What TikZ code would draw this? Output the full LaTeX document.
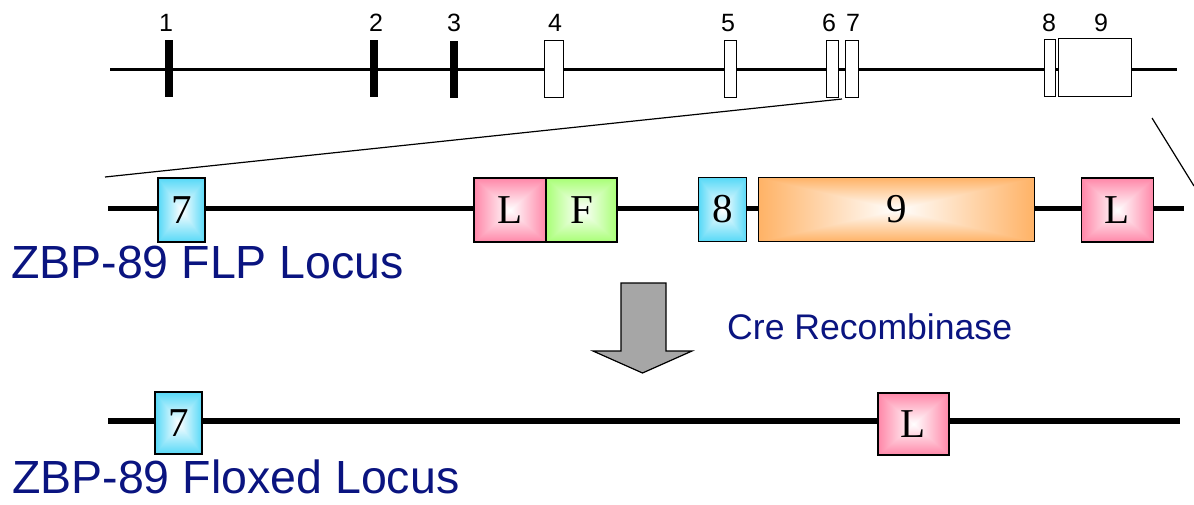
\documentclass[tikz,border=0pt]{standalone}
\usepackage{fontspec}
\setmainfont{Liberation Serif}
\newfontfamily\arialfont{Liberation Sans}

% Box fills: white centre fading to the colour at every edge.
% The stack holds x y; it leaves r g b. The box covers the middle 50bp square.
\newcommand\edgeshade[4]{%
  \pgfdeclarefunctionalshading{#1}{\pgfpoint{-50bp}{-50bp}}{\pgfpoint{50bp}{50bp}}{}{%
    abs exch abs 2 copy lt {exch} if pop 25 div
    dup 1 gt {pop 1} if
    dup #2 mul 1 exch sub exch
    dup #3 mul 1 exch sub exch
    #4 mul 1 exch sub}}
\edgeshade{exoncyan}{0.66}{0.15}{0.03}
\edgeshade{loxpink}{0.0}{0.47}{0.34}
\edgeshade{frtgreen}{0.34}{0.0}{0.54}
\edgeshade{exonorange}{0.0}{0.30}{0.60}

\definecolor{labelblue}{RGB}{10,20,128}
\definecolor{arrowgray}{RGB}{166,166,166}

\tikzset{
  darkexon/.style={fill=black, draw=none, minimum width=8pt, minimum height=57pt, inner sep=0pt},
  lightexon/.style={fill=white, draw=black, line width=0.9pt, minimum height=57pt, inner sep=0pt},
  exonnum/.style={font=\arialfont\fontsize{25}{25}\selectfont, inner sep=0pt},
  feature/.style={draw=black, line width=1.3pt, inner sep=0pt, minimum height=64pt,
                  font=\fontsize{41}{41}\selectfont},
  locustitle/.style={font=\arialfont\fontsize{46.5}{46.5}\selectfont, text=labelblue,
                     inner sep=0pt, anchor=base west},
  zoomline/.style={line width=1.2pt},
}

\begin{document}
\begin{tikzpicture}[x=1pt,y=-1pt]
\useasboundingbox (0,0) rectangle (1194,504);

% ---- gene overview with nine exons ----
\coordinate (g0) at (110,69);
\coordinate (g1) at (1177,69);
\draw[line width=3pt] (g0) -- (g1);

\node[darkexon] (e1) at (168.5,68.5) {};
\node[darkexon] (e2) at (373.5,68) {};
\node[darkexon] (e3) at (453.5,69.5) {};
\node[lightexon, minimum width=19pt] (e4) at (553.5,68.5) {};
\node[lightexon, minimum width=12pt] (e5) at (730.5,68.5) {};
\node[lightexon, minimum width=12pt] (e6) at (832.5,69) {};
\node[lightexon, minimum width=13pt] (e7) at (852,69) {};
\node[lightexon, minimum width=11pt] (e8) at (1050,67.5) {};
\node[lightexon, minimum width=73pt, minimum height=58pt] (e9) at (1094.5,67) {};

\node[exonnum] (n1) at (166,23) {1};
\node[exonnum] (n2) at (376,23) {2};
\node[exonnum] (n3) at (454,23) {3};
\node[exonnum] (n4) at (555,23) {4};
\node[exonnum] (n5) at (728,23) {5};
\node[exonnum] (n6) at (829,23) {6};
\node[exonnum] (n7) at (853,23) {7};
\node[exonnum] (n8) at (1049,23) {8};
\node[exonnum] (n9) at (1101,23) {9};

% ---- expansion lines ----
\coordinate (zl0) at (842,99);
\coordinate (zl1) at (105,177);
\coordinate (zr0) at (1152,118);
\coordinate (zr1) at (1194,186);
\draw[zoomline] (zl0) -- (zl1);
\draw[zoomline] (zr0) -- (zr1);

% ---- FLP locus ----
\coordinate (f0) at (108,208);
\coordinate (f1) at (1184,208);
\draw[line width=5pt] (f0) -- (f1);

\node[feature, shading=exoncyan, shade, minimum width=47pt] (f7) at (181.5,210) {7};
\node[feature, shading=loxpink, shade, minimum width=72pt] (fl1) at (510,210) {L};
\node[feature, shading=frtgreen, shade, minimum width=71pt] (ff) at (581.5,210) {F};
\node[feature, shading=exoncyan, shade, minimum width=48pt] (f8) at (722.5,209.5) {8};
\node[feature, shading=exonorange, shade, minimum width=276pt] (f9) at (896.5,209.5) {9};
\node[feature, shading=loxpink, shade, minimum width=72pt] (fl2) at (1117.5,210) {L};

\node[locustitle] (flp) at (11,278) {ZBP-89 FLP Locus};

% ---- Cre step ----
\draw[fill=arrowgray, draw=black, line width=1.2pt, line join=miter]
  (621,283) -- (666,283) -- (666,351) -- (692,351) -- (642.5,373)
  -- (593,351) -- (621,351) -- cycle;
\node[font=\arialfont\fontsize{35.6}{35.6}\selectfont, text=labelblue, inner sep=0pt,
      anchor=base west] (cre) at (727,339) {Cre Recombinase};

% ---- floxed locus ----
\coordinate (x0) at (108,421);
\coordinate (x1) at (1180,421);
\draw[line width=5.5pt] (x0) -- (x1);

\node[feature, shading=exoncyan, shade, minimum width=47pt, minimum height=62pt] (x7) at (178.5,423) {7};
\node[feature, shading=loxpink, shade, minimum width=71pt, minimum height=62pt] (xl) at (913.5,424) {L};

\node[locustitle] (flox) at (12,493) {ZBP-89 Floxed Locus};
\end{tikzpicture}
\end{document}
